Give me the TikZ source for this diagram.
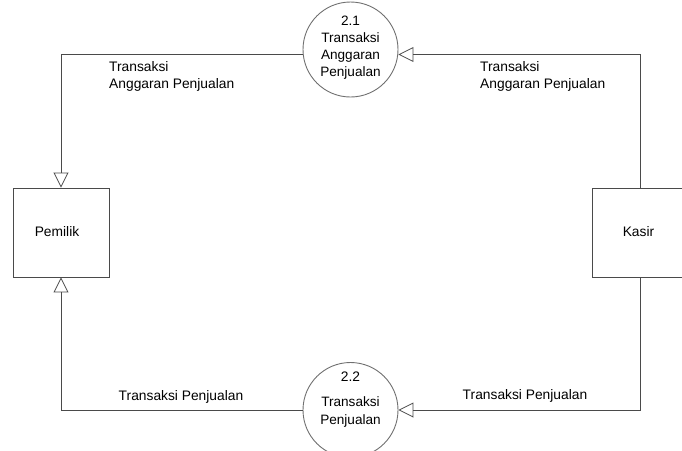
\documentclass[tikz,border=0pt]{standalone}
\usepackage{fontspec}
\setmainfont{Liberation Sans}
\usetikzlibrary{arrows.meta}
\definecolor{lin}{HTML}{4A4A4A}
\definecolor{circ}{HTML}{707070}
\begin{document}
\begin{tikzpicture}[x=1pt,y=-1pt,
  every node/.style={font=\fontsize{13.8}{17}\selectfont, text=black},
  entity/.style={draw=lin, line width=0.9pt, minimum width=96pt, minimum height=89pt, inner sep=0pt},
  proc/.style={draw=circ, line width=0.9pt, circle, minimum size=95pt, inner sep=0pt},
  flow/.style={draw=lin, line width=0.9pt, -{Triangle[open, length=15pt, width=15pt, line width=0.8pt]}},
  lbl/.style={align=left, inner sep=0pt, anchor=north west}]
\useasboundingbox (0,0) rectangle (682,450);

\node[entity] (pem) at (61,232.5) {};
\node (pemt) at (57,232) {Pemilik};
\node[entity] (kas) at (640,232.5) {};
\node (kast) at (638.5,232) {Kasir};

\node[proc] (p21) at (350.5,49.5) {};
\node[align=center, inner sep=0pt, font=\fontsize{13.6}{17.2}\selectfont] (p21t) at (350.5,47.5) {2.1\\Transaksi\\Anggaran\\Penjualan};
\node[proc] (p22) at (350.5,410) {};
\node[inner sep=0pt] (p22n) at (350.5,377) {2.2};
\node[align=center, inner sep=0pt, font=\fontsize{13.6}{18}\selectfont] (p22t) at (350.5,412) {Transaksi\\Penjualan};

\draw[flow] ([yshift=-5pt]p21.west) -| (pem.north);
\draw[flow] (kas.north) |- ([yshift=-5pt]p21.east);
\draw[flow] (kas.south) |- (p22.east);
\draw[flow] (p22.west) -| (pem.south);

\node[lbl] (l1) at (109,61) {Transaksi\\Anggaran Penjualan};
\node[lbl] (l2) at (480,61) {Transaksi\\Anggaran Penjualan};
\node[inner sep=0pt] (l3) at (181,397) {Transaksi Penjualan};
\node[inner sep=0pt] (l4) at (525,396) {Transaksi Penjualan};
\end{tikzpicture}
\end{document}
